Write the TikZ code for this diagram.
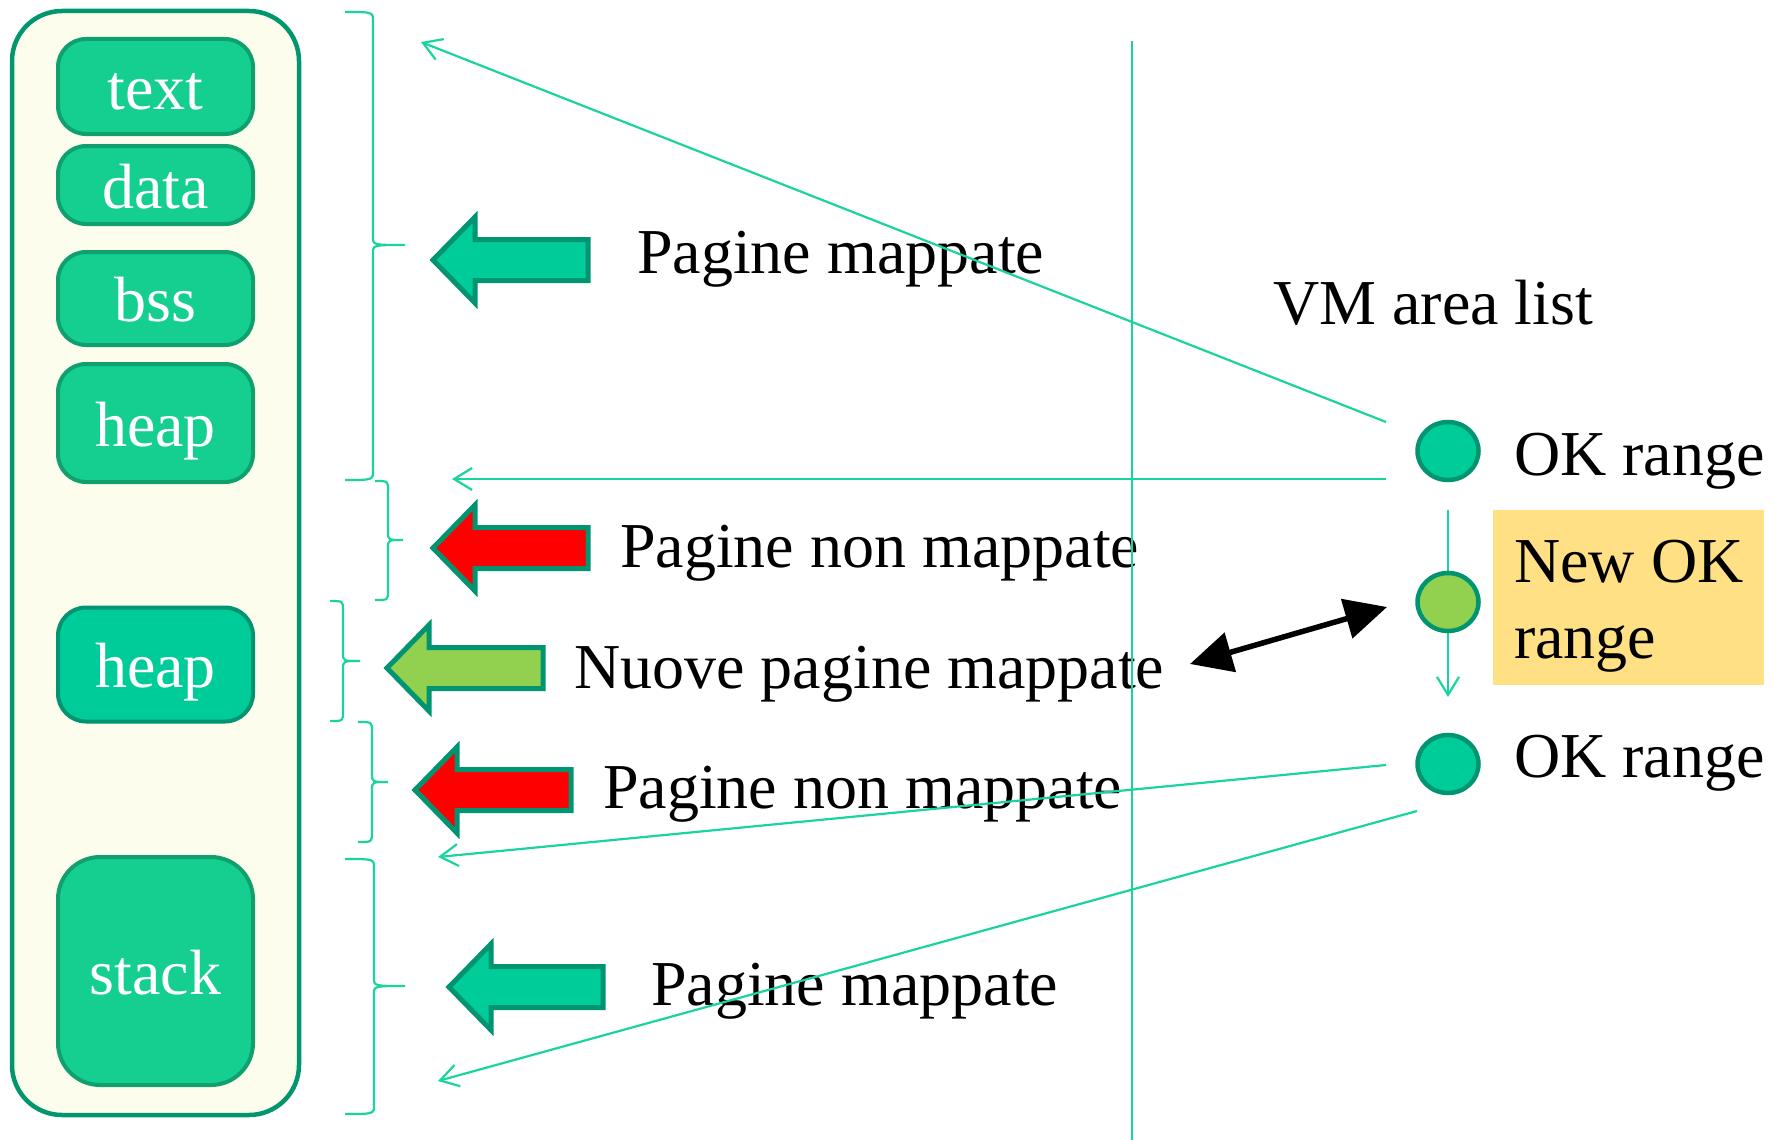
\documentclass[tikz,border=0pt]{standalone}
\usepackage{fontspec}
\setmainfont{Liberation Serif}
\usetikzlibrary{arrows.meta,shapes.geometric}
\definecolor{outerfill}{RGB}{253,253,238}
\definecolor{outerdraw}{RGB}{0,150,110}
\definecolor{segfill}{RGB}{20,207,143}
\definecolor{segdraw}{RGB}{16,160,110}
\definecolor{teal}{RGB}{0,204,153}
\definecolor{tealdraw}{RGB}{0,148,112}
\definecolor{lime}{RGB}{146,208,80}
\definecolor{lineg}{RGB}{25,212,158}
\definecolor{gold}{RGB}{255,224,133}
\newcommand\myfs{\fontsize{64}{76}\selectfont}
\newcommand\blockarr[4]{%
  \draw[blockarrow, fill=#4] (#1,#2) -- (#1+42,#2-43) -- (#1+42,#2-20.5) -- (#3,#2-20.5)
    -- (#3,#2+20.5) -- (#1+42,#2+20.5) -- (#1+42,#2+43) -- cycle;}
\newcommand\brc[6]{%
  \draw[bracestyle] (#1,#4) .. controls (#2,#4) .. (#2,#4+9) -- (#2,#5-8)
    .. controls (#2,#5) .. (#3,#5) .. controls (#2,#5) .. (#2,#5+8) -- (#2,#6-9)
    .. controls (#2,#6) .. (#1,#6);}
\tikzset{
  seg/.style={draw=segdraw, fill=segfill, line width=4pt, rounded corners=28pt,
    minimum width=195pt, text=white, font=\myfs, text height=46pt, text depth=0pt,
    inner sep=0pt},
  blockarrow/.style={draw=tealdraw, line width=5pt, line join=miter},
  bracestyle/.style={draw=lineg, line width=2.2pt},
  thin/.style={draw=lineg, line width=2.2pt, -{Straight Barb[length=18pt,width=22pt,line width=2.2pt]}},
  lbl/.style={font=\myfs, anchor=base west, inner sep=0pt},
  dot/.style={ellipse, draw=tealdraw, line width=4.5pt, minimum width=61pt, minimum height=58pt, inner sep=0pt},
}
\begin{document}
\begin{tikzpicture}[x=1pt,y=-1pt]
\useasboundingbox (0,0) rectangle (1773,1140);
% outer container
\draw[draw=outerdraw, fill=outerfill, line width=4.5pt, rounded corners=50pt] (12,11) rectangle (299,1115);
% segments
\node[seg, minimum height=95pt] (text) at (155.5,86.5) {text};
\node[seg, minimum height=78pt] (data) at (155.5,185) {data};
\node[seg, minimum height=93pt] (bss) at (155.5,298.5) {bss};
\node[seg, minimum height=118pt] (heapA) at (155.5,423) {heap};
\node[seg, minimum height=114pt, fill=teal, draw=tealdraw] (heapB) at (155.5,664.5) {heap};
\node[seg, minimum height=228pt, rounded corners=42pt] (stack) at (155.5,971) {stack};
% braces
\brc{345}{373}{405}{12}{245}{480}
\brc{375}{388}{403}{481}{540}{600}
\brc{330}{343}{360}{601}{661}{721}
\brc{358}{372}{388}{722}{782}{842}
\brc{345}{374}{405}{859}{986}{1114}
% block arrows
\blockarr{433}{260}{588}{teal}
\blockarr{433}{548}{588}{red}
\blockarr{387}{668}{543}{lime}
\blockarr{415}{790}{571}{red}
\blockarr{449}{987}{603}{teal}
% labels
\node[lbl] (l1) at (637,273) {Pagine mappate};
\node[lbl] (l2) at (620,567) {Pagine non mappate};
\node[lbl] (l3) at (574,688) {Nuove pagine mappate};
\node[lbl] (l4) at (603,808) {Pagine non mappate};
\node[lbl] (l5) at (651,1005) {Pagine mappate};
\node[lbl] (vm) at (1273,324) {VM area list};
% vertical separator
\coordinate (vtop) at (1132,41);
\coordinate (vbot) at (1132,1140);
\draw[draw=lineg, line width=2.2pt] (vtop) -- (vbot);
% list
\node[fill=gold, minimum width=271pt, minimum height=175pt, inner sep=0pt] (newbox) at (1628.5,597.5) {};
\node[lbl] (newt1) at (1514,582) {New OK};
\node[lbl] (newt2) at (1514,658) {range};
\node[lbl] (ok1) at (1514,475) {OK range};
\node[lbl] (ok2) at (1514,777) {OK range};
\coordinate (ls) at (1448,510);
\coordinate (le) at (1448,697);
\draw[thin] (ls) -- (le);
\node[dot, fill=teal] (c1) at (1448,451) {};
\node[dot, fill=lime] (c2) at (1448,602) {};
\node[dot, fill=teal] (c3) at (1448,764) {};
% pointer lines
\coordinate (p1s) at (1386,422); \coordinate (p1e) at (421,42);
\coordinate (p2s) at (1386,479); \coordinate (p2e) at (452,479);
\coordinate (p3s) at (1386,765); \coordinate (p3e) at (438,857);
\coordinate (p4s) at (1417,811); \coordinate (p4e) at (438,1081);
\draw[thin] (p1s) -- (p1e);
\draw[thin] (p2s) -- (p2e);
\draw[thin] (p3s) -- (p3e);
\draw[thin] (p4s) -- (p4e);
% double arrow
\coordinate (da1) at (1190,664);
\coordinate (da2) at (1387,607);
\draw[line width=5.5pt, {Triangle[length=42pt,width=40pt]}-{Triangle[length=42pt,width=40pt]}] (da1) -- (da2);
\end{tikzpicture}
\end{document}
